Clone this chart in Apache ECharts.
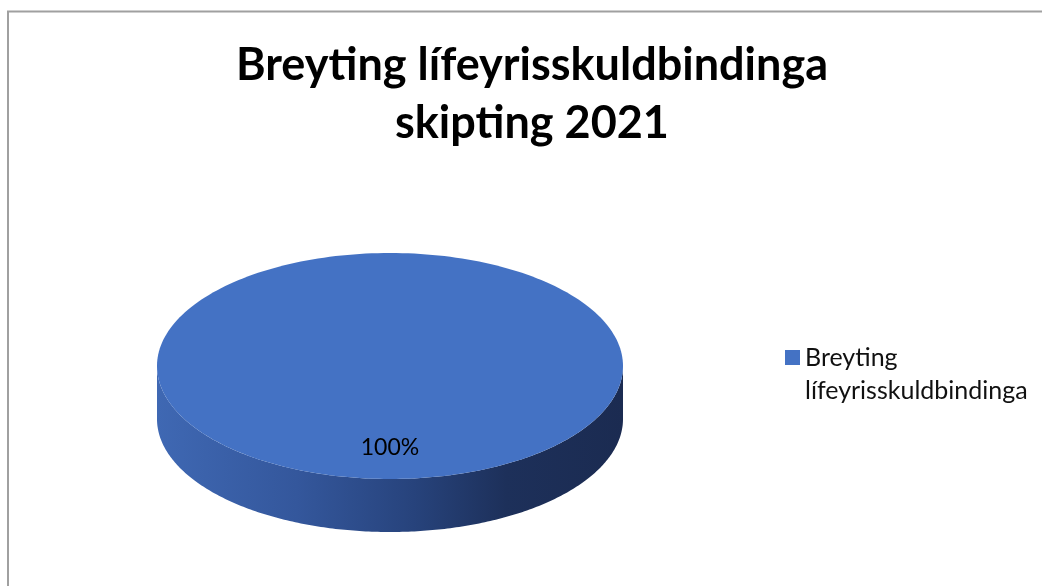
<!DOCTYPE html>
<html>
<head>
<meta charset="utf-8">
<script src="https://cdn.jsdelivr.net/npm/echarts@6/dist/echarts.min.js"></script>
<style>
html,body{margin:0;padding:0;background:#fff;}
#chart{width:1042px;height:586px;}
</style>
</head>
<body>
<div id="chart"></div>
<script>
// ---- data ----
var categories = ['Breyting lífeyrisskuldbindinga'];
var values = [100];
var titleText = 'Breyting lífeyrisskuldbindinga\nskipting 2021';
var legendLabels = ['Breyting\nlífeyrisskuldbindinga'];

// ---- layout / style ----
var CX = 390, CY = 366, RX = 233, RY = 113, DEPTH = 53;
var topColors = ['#4472C4'];

var total = values.reduce(function (a, b) { return a + b; }, 0);
var starts = [];
(function () {
  var acc = 0;
  for (var i = 0; i < values.length; i++) { starts.push(acc); acc += values[i]; }
})();

function ellPt(t, dy) {
  return [CX + RX * Math.cos(t), CY + (dy || 0) + RY * Math.sin(t)];
}

function renderItem(params, api) {
  var i = params.dataIndex;
  var v = api.value(1);
  var a0 = -Math.PI / 2 + 2 * Math.PI * starts[i] / total;
  var a1 = a0 + 2 * Math.PI * v / total;
  var full = v >= total;
  var N = 240;
  var children = [];

  var ranges = [];
  [[0, Math.PI], [2 * Math.PI, 3 * Math.PI]].forEach(function (r) {
    var s = Math.max(a0, r[0]), e = Math.min(a1, r[1]);
    if (s < e) ranges.push([s, e]);
  });
  ranges.forEach(function (r) {
    var pts = [], k, t;
    for (k = 0; k <= N; k++) { t = r[0] + (r[1] - r[0]) * k / N; pts.push(ellPt(t, 0)); }
    for (k = N; k >= 0; k--) { t = r[0] + (r[1] - r[0]) * k / N; pts.push(ellPt(t, DEPTH)); }
    children.push({
      type: 'polygon',
      shape: { points: pts },
      style: {
        fill: new echarts.graphic.LinearGradient(0, 0, 1, 0, [
          { offset: 0, color: '#3f68b3' },
          { offset: 0.3, color: '#34579c' },
          { offset: 0.55, color: '#27437c' },
          { offset: 0.75, color: '#1d305a' },
          { offset: 1, color: '#1b2b51' }
        ]),
        stroke: null
      }
    });
  });

  var tp = [];
  if (!full) tp.push([CX, CY]);
  for (var k = 0; k <= N; k++) { tp.push(ellPt(a0 + (a1 - a0) * k / N, 0)); }
  children.push({
    type: 'polygon',
    shape: { points: tp },
    style: { fill: topColors[i % topColors.length], stroke: null }
  });

  var mid = (a0 + a1) / 2;
  var lp = [CX + 0.72 * RX * Math.cos(mid), CY + 0.72 * RY * Math.sin(mid)];
  children.push({
    type: 'text',
    style: {
      text: Math.round(v / total * 100) + '%',
      x: lp[0], y: lp[1],
      align: 'center', verticalAlign: 'middle',
      fill: '#000',
      font: '23px Lato'
    }
  });

  return { type: 'group', children: children };
}

var chart = echarts.init(document.getElementById('chart'));
chart.setOption({
  backgroundColor: '#fff',
  animation: false,
  color: topColors,
  title: {
    text: titleText,
    left: 527,
    textAlign: 'center',
    top: 31,
    textStyle: { fontFamily: 'Lato', fontWeight: 'bold', fontSize: 45, lineHeight: 58, color: '#000' }
  },
  legend: {
    orient: 'vertical',
    left: 785,
    top: 308,
    padding: 0,
    icon: 'rect',
    itemWidth: 15,
    itemHeight: 15,
    itemGap: 7,
    data: [categories[0]],
    formatter: function (name) { return '\n' + legendLabels[categories.indexOf(name)]; },
    textStyle: { fontFamily: 'Lato', fontSize: 25, lineHeight: 33, color: '#111' }
  },
  graphic: [
    { type: 'rect', shape: { x: 8, y: 11.5, width: 1100, height: 700 }, style: { fill: null, stroke: '#a0a0a0', lineWidth: 2 }, silent: true }
  ],
  series: [{
    type: 'custom',
    name: categories[0],
    coordinateSystem: 'none',
    renderItem: renderItem,
    data: values.map(function (v, i) { return [i, v]; })
  }]
});
</script>
</body>
</html>
